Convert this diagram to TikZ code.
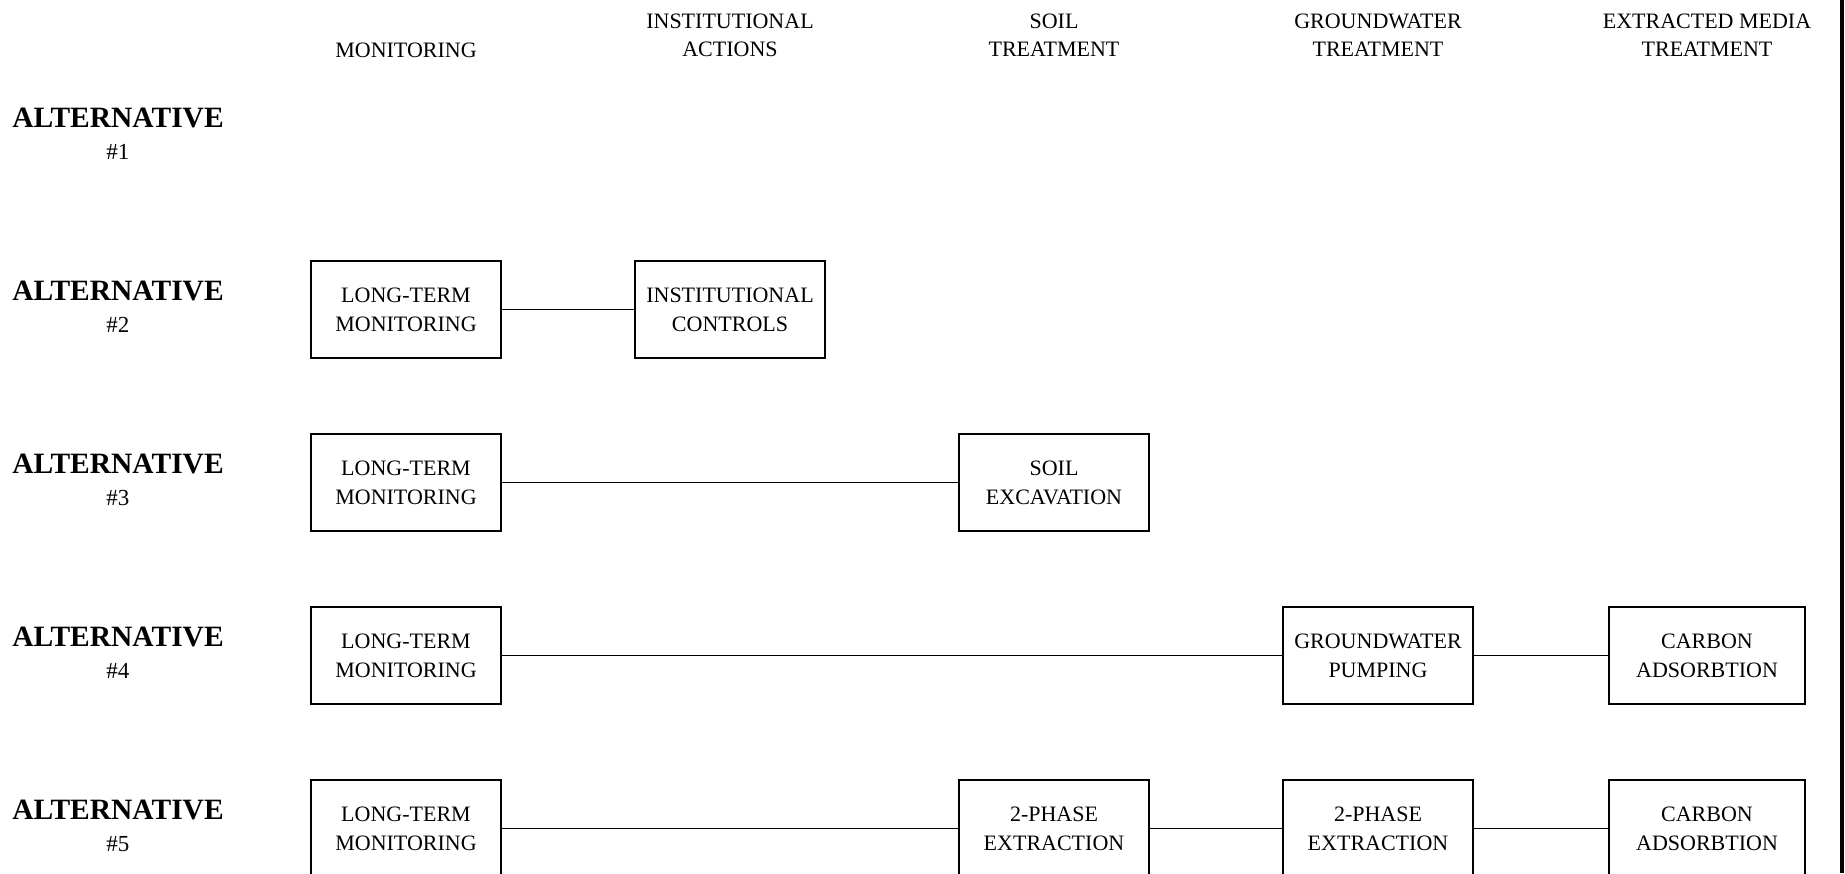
\documentclass[tikz,border=0pt]{standalone}
\usepackage{fontspec}
\setmainfont{Liberation Serif}
\usetikzlibrary{positioning}

\begin{document}
\begin{tikzpicture}[x=1pt, y=-1pt, line width=1.4pt, node distance=173pt,
box/.style = {draw, rectangle, align=center, minimum width=190pt, minimum height=97pt,
  inner sep=2pt, font=\fontsize{22}{29}\selectfont},
head/.style = {align=center, font=\fontsize{22}{28}\selectfont},
alt/.style = {align=center, font=\fontsize{23}{32}\selectfont}]
    \useasboundingbox (0,0) rectangle (1845,873);

    % column heads
    \node[head] (h1) at (406,50) {MONITORING};
    \node[head] (h2) at (730,35) {INSTITUTIONAL\\ACTIONS};
    \node[head] (h3) at (1054,35) {SOIL\\TREATMENT};
    \node[head] (h4) at (1378,35) {GROUNDWATER\\TREATMENT};
    \node[head] (h5) at (1707,35) {EXTRACTED MEDIA\\TREATMENT};

    % alternatives
    \node[alt] (a1) at (118,134) {{\bfseries\fontsize{29.5}{32}\selectfont ALTERNATIVE}\\\#1};
    \node[alt] (a2) [below of=a1] {{\bfseries\fontsize{29.5}{32}\selectfont ALTERNATIVE}\\\#2};
    \node[alt] (a3) [below of=a2] {{\bfseries\fontsize{29.5}{32}\selectfont ALTERNATIVE}\\\#3};
    \node[alt] (a4) [below of=a3] {{\bfseries\fontsize{29.5}{32}\selectfont ALTERNATIVE}\\\#4};
    \node[alt] (a5) [below of=a4] {{\bfseries\fontsize{29.5}{32}\selectfont ALTERNATIVE}\\\#5};

    \node[box] (m2) at ([yshift=-2.5pt]h1 |- a2) {LONG-TERM\\MONITORING};
    \node[box] (i2) at (h2 |- m2) {INSTITUTIONAL\\CONTROLS};

    \node[box] (m3) at ([yshift=-2.5pt]h1 |- a3) {LONG-TERM\\MONITORING};
    \node[box] (s3) at (h3 |- m3) {SOIL\\EXCAVATION};

    \node[box] (m4) at ([yshift=-2.5pt]h1 |- a4) {LONG-TERM\\MONITORING};
    \node[box] (g4) at (h4 |- m4) {GROUNDWATER\\PUMPING};
    \node[box, minimum width=196pt] (c4) at (h5 |- m4) {CARBON\\ADSORBTION};

    \node[box] (m5) at ([yshift=-2.5pt]h1 |- a5) {LONG-TERM\\MONITORING};
    \node[box] (s5) at (h3 |- m5) {2-PHASE\\EXTRACTION};
    \node[box] (g5) at (h4 |- m5) {2-PHASE\\EXTRACTION};
    \node[box, minimum width=196pt] (c5) at (h5 |- m5) {CARBON\\ADSORBTION};

    \draw (m2) -- (i2);
    \draw (m3) -- (s3);
    \draw (m4) -- (g4);
    \draw (g4) -- (c4);
    \draw (m5) -- (s5);
    \draw (s5) -- (g5);
    \draw (g5) -- (c5);

    % page edge
    \draw[line width=3.5pt] (1842,0) -- (1842,873);
\end{tikzpicture}
\end{document}
